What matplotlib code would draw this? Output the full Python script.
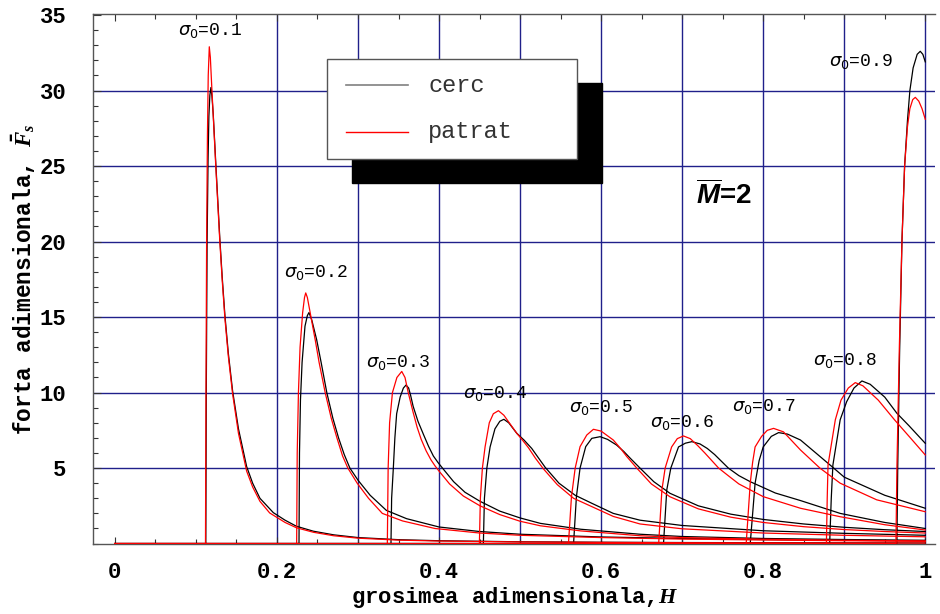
import matplotlib
matplotlib.use("Agg")
import matplotlib.pyplot as plt
from matplotlib.patches import Rectangle
from matplotlib.lines import Line2D
from matplotlib.ticker import MultipleLocator

# ---------------------------------------------------------------- data
sigma_labels = ["0.1", "0.2", "0.3", "0.4", "0.5", "0.6", "0.7", "0.8", "0.9"]

# sigma0 = 0.1
cerc_01_h = [0.0, 0.1122, 0.1128, 0.1138, 0.1150, 0.1160, 0.1172, 0.1185, 0.1198, 0.1214, 0.1245, 0.1270,
             0.1295, 0.1325, 0.1358, 0.1400, 0.1453, 0.1525, 0.1626, 0.1700, 0.1790, 0.1955, 0.2100,
             0.2240, 0.2450, 0.2700, 0.3000, 0.3500, 0.4000, 0.5000, 0.6000, 0.7000, 0.8000, 0.9000, 1.0]
cerc_01_f = [0, 0, 10, 20, 25.5, 28.3, 29.7, 30.2, 29.6, 28.4, 25.2, 22.7, 20.2, 17.6, 15.1, 12.6, 10.1,
             7.6, 5.1, 4.0, 3.0, 2.05, 1.55, 1.15, 0.82, 0.58, 0.40, 0.26, 0.19, 0.12, 0.09, 0.07, 0.06,
             0.05, 0.04]
patrat_01_h = [0.0, 0.1118, 0.1124, 0.1132, 0.1142, 0.1152, 0.1165, 0.1178, 0.1195, 0.1214, 0.1245, 0.1270,
               0.1295, 0.1325, 0.1358, 0.1400, 0.1453, 0.1525, 0.1626, 0.1700, 0.1790, 0.1910, 0.2100,
               0.2240, 0.2450, 0.2700, 0.3000, 0.3500, 0.4000, 0.5000, 0.6000, 0.7000, 0.8000, 0.9000, 1.0]
patrat_01_f = [0, 0, 10, 20, 27, 31, 32.9, 32.2, 30.3, 28.3, 25.0, 22.5, 20.0, 17.4, 14.9, 12.4, 9.9, 7.3,
               4.8, 3.75, 2.8, 2.03, 1.4, 1.05, 0.75, 0.52, 0.36, 0.23, 0.17, 0.11, 0.08, 0.06, 0.05, 0.04,
               0.04]

# sigma0 = 0.2
cerc_02_h = [0.0, 0.2272, 0.2278, 0.2290, 0.2310, 0.2346, 0.2375, 0.2395, 0.2430, 0.2490, 0.2545, 0.2615,
             0.2690, 0.2760, 0.2830, 0.2900, 0.3000, 0.3150, 0.3350, 0.3600, 0.4000, 0.4500, 0.5000,
             0.6000, 0.7000, 0.8000, 0.9000, 1.0]
cerc_02_f = [0, 0, 6.0, 9.5, 12.0, 14.4, 15.1, 15.3, 14.8, 13.5, 12.0, 10.0, 8.3, 7.0, 5.9, 5.0, 4.2, 3.2,
             2.2, 1.65, 1.1, 0.8, 0.62, 0.44, 0.34, 0.27, 0.22, 0.18]
patrat_02_h = [0.0, 0.2243, 0.2250, 0.2265, 0.2285, 0.2317, 0.2340, 0.2355, 0.2375, 0.2420, 0.2475, 0.2520,
               0.2595, 0.2670, 0.2740, 0.2810, 0.2875, 0.2990, 0.3130, 0.3300, 0.3550, 0.3950, 0.4500,
               0.5000, 0.6000, 0.7000, 0.8000, 0.9000, 1.0]
patrat_02_f = [0, 0, 6.0, 10.0, 13.0, 15.3, 16.3, 16.6, 16.3, 15.0, 13.4, 12.0, 10.0, 8.3, 7.0, 5.8, 5.0,
               4.0, 3.0, 2.0, 1.5, 1.0, 0.7, 0.55, 0.4, 0.3, 0.24, 0.19, 0.15]

# sigma0 = 0.3
cerc_03_h = [0.0, 0.3407, 0.3415, 0.3436, 0.3455, 0.3477, 0.3520, 0.3560, 0.3593, 0.3625, 0.3650, 0.3680,
             0.3740, 0.3810, 0.3870, 0.3930, 0.3990, 0.4050, 0.4180, 0.4320, 0.4506, 0.4750, 0.5000,
             0.5250, 0.5750, 0.6480, 0.7000, 0.8000, 0.9000, 1.0]
cerc_03_f = [0, 0, 3.0, 5.0, 7.0, 8.6, 9.7, 10.3, 10.5, 10.3, 9.8, 9.1, 8.1, 7.2, 6.45, 5.8, 5.35, 4.95,
             4.1, 3.4, 2.8, 2.15, 1.7, 1.34, 0.95, 0.62, 0.47, 0.34, 0.27, 0.22]
patrat_03_h = [0.0, 0.3362, 0.3372, 0.3390, 0.3425, 0.3480, 0.3540, 0.3580, 0.3620, 0.3680, 0.3730, 0.3780,
               0.3840, 0.3900, 0.3950, 0.4000, 0.4130, 0.4300, 0.4506, 0.4750, 0.5000, 0.5250, 0.5750,
               0.6480, 0.7000, 0.8000, 0.9000, 1.0]
patrat_03_f = [0, 0, 5.0, 8.0, 10.0, 11.0, 11.4, 11.0, 10.0, 8.7, 7.7, 6.9, 6.15, 5.55, 5.15, 4.8, 3.95,
               3.15, 2.5, 1.92, 1.48, 1.18, 0.84, 0.52, 0.4, 0.29, 0.22, 0.18]

# sigma0 = 0.4
cerc_04_h = [0.0, 0.4547, 0.4560, 0.4590, 0.4630, 0.4690, 0.4750, 0.4800, 0.4860, 0.4960, 0.5050, 0.5144,
             0.5230, 0.5310, 0.5480, 0.5680, 0.5885, 0.6150, 0.6480, 0.7000, 0.8000, 0.9000, 1.0]
cerc_04_f = [0, 0, 3.0, 5.0, 6.4, 7.6, 8.1, 8.23, 8.0, 7.3, 6.85, 6.3, 5.65, 5.05, 4.0, 3.2, 2.67, 2.0,
             1.55, 1.2, 0.85, 0.68, 0.55]
patrat_04_h = [0.0, 0.4498, 0.4510, 0.4535, 0.4568, 0.4620, 0.4670, 0.4733, 0.4800, 0.4880, 0.4960, 0.5030,
               0.5103, 0.5190, 0.5288, 0.5460, 0.5660, 0.5885, 0.6150, 0.6480, 0.7000, 0.8000, 0.9000, 1.0]
patrat_04_f = [0, 0, 3.0, 5.0, 6.4, 8.0, 8.6, 8.8, 8.5, 7.9, 7.3, 6.85, 6.35, 5.65, 4.95, 3.9, 3.0, 2.45,
               1.8, 1.3, 0.98, 0.7, 0.55, 0.45]

# sigma0 = 0.5
cerc_05_h = [0.0, 0.5660, 0.5695, 0.5740, 0.5810, 0.5885, 0.5988, 0.6080, 0.6190, 0.6280, 0.6360, 0.6480,
             0.6650, 0.6850, 0.7200, 0.7600, 0.8000, 0.8500, 0.9000, 0.9500, 1.0]
cerc_05_f = [0, 0, 3.1, 5.0, 6.42, 6.97, 7.08, 6.9, 6.53, 6.1, 5.65, 5.0, 4.1, 3.33, 2.5, 1.95, 1.6, 1.3,
             1.08, 0.92, 0.8]
patrat_05_h = [0.0, 0.5597, 0.5634, 0.5680, 0.5740, 0.5823, 0.5905, 0.6000, 0.6150, 0.6240, 0.6317, 0.6440,
               0.6620, 0.6850, 0.7200, 0.7600, 0.8000, 0.8500, 0.9000, 0.9500, 1.0]
patrat_05_f = [0, 0, 3.1, 5.0, 6.42, 7.19, 7.57, 7.45, 6.86, 6.3, 5.76, 5.0, 3.95, 3.1, 2.3, 1.75, 1.4,
               1.12, 0.93, 0.8, 0.7]

# sigma0 = 0.6
cerc_06_h = [0.0, 0.6770, 0.6810, 0.6860, 0.6955, 0.7040, 0.7120, 0.7220, 0.7310, 0.7400, 0.7570, 0.7700,
             0.7840, 0.8150, 0.8460, 0.8950, 0.9500, 1.0]
cerc_06_f = [0, 0, 3.55, 5.0, 6.4, 6.65, 6.75, 6.6, 6.3, 5.9, 5.0, 4.5, 4.1, 3.35, 2.85, 2.0, 1.4, 1.0]
patrat_06_h = [0.0, 0.6710, 0.6750, 0.6790, 0.6870, 0.6940, 0.7016, 0.7100, 0.7190, 0.7280, 0.7450, 0.7580,
               0.7700, 0.8000, 0.8460, 0.8950, 0.9500, 1.0]
patrat_06_f = [0, 0, 3.55, 5.0, 6.4, 6.95, 7.13, 6.95, 6.5, 6.0, 5.0, 4.45, 3.95, 3.11, 2.34, 1.78, 1.25, 0.9]

# sigma0 = 0.7
cerc_07_h = [0.0, 0.7840, 0.7870, 0.7900, 0.7950, 0.8000, 0.8100, 0.8190, 0.8300, 0.8460, 0.8650, 0.8870,
             0.9000, 0.9500, 1.0]
cerc_07_f = [0, 0, 2.0, 4.0, 5.5, 6.4, 7.1, 7.35, 7.25, 6.86, 6.0, 5.0, 4.4, 3.2, 2.34]
patrat_07_h = [0.0, 0.7790, 0.7815, 0.7840, 0.7870, 0.7900, 0.7980, 0.8050, 0.8128, 0.8250, 0.8460, 0.8700,
               0.8950, 0.9400, 1.0]
patrat_07_f = [0, 0, 2.0, 4.0, 5.4, 6.4, 7.1, 7.5, 7.63, 7.4, 6.2, 5.0, 4.0, 2.9, 2.11]

# sigma0 = 0.8
cerc_08_h = [0.0, 0.8820, 0.8840, 0.8860, 0.8950, 0.9030, 0.9120, 0.9218, 0.9320, 0.9500, 0.9650, 0.9800, 1.0]
cerc_08_f = [0, 0, 3.0, 5.2, 8.2, 9.4, 10.3, 10.77, 10.55, 9.7, 8.63, 7.8, 6.64]
patrat_08_h = [0.0, 0.8780, 0.8790, 0.8800, 0.8890, 0.8960, 0.9050, 0.9136, 0.9230, 0.9420, 0.9620, 0.9800,
               1.0]
patrat_08_f = [0, 0, 3.0, 5.2, 8.2, 9.5, 10.3, 10.66, 10.45, 9.5, 8.2, 7.1, 5.87]

# sigma0 = 0.9
cerc_09_h = [0.0, 0.9650, 0.9660, 0.9683, 0.9712, 0.9745, 0.9780, 0.9810, 0.9850, 0.9900, 0.9938, 0.9970, 1.0]
cerc_09_f = [0, 0, 5.0, 12.6, 20.0, 25.0, 28.0, 30.0, 31.5, 32.4, 32.6, 32.4, 31.9]
patrat_09_h = [0.0, 0.9638, 0.9650, 0.9680, 0.9712, 0.9745, 0.9780, 0.9810, 0.9845, 0.9877, 0.9920, 0.9960,
               1.0]
patrat_09_f = [0, 0, 5.0, 13.0, 20.0, 25.0, 27.6, 28.8, 29.4, 29.55, 29.3, 28.8, 28.1]

x_ticks = [0, 0.2, 0.4, 0.6, 0.8, 1.0]
x_tick_labels = ["0", "0.2", "0.4", "0.6", "0.8", "1"]
y_ticks = [5, 10, 15, 20, 25, 30, 35]
y_tick_labels = ["5", "10", "15", "20", "25", "30", "35"]
grid_x = [0.2, 0.3, 0.4, 0.5, 0.6, 0.7, 0.8, 0.9, 1.0]
grid_y = [5, 10, 15, 20, 25, 30]

cerc_curves = [(cerc_01_h, cerc_01_f), (cerc_02_h, cerc_02_f), (cerc_03_h, cerc_03_f),
               (cerc_04_h, cerc_04_f), (cerc_05_h, cerc_05_f), (cerc_06_h, cerc_06_f),
               (cerc_07_h, cerc_07_f), (cerc_08_h, cerc_08_f), (cerc_09_h, cerc_09_f)]
patrat_curves = [(patrat_01_h, patrat_01_f), (patrat_02_h, patrat_02_f), (patrat_03_h, patrat_03_f),
                 (patrat_04_h, patrat_04_f), (patrat_05_h, patrat_05_f), (patrat_06_h, patrat_06_f),
                 (patrat_07_h, patrat_07_f), (patrat_08_h, patrat_08_f), (patrat_09_h, patrat_09_f)]

# ---------------------------------------------------------------- style
plt.rcParams["mathtext.fontset"] = "custom"
plt.rcParams["mathtext.it"] = "Liberation Serif:italic:bold"
plt.rcParams["mathtext.rm"] = "Liberation Sans:bold"
plt.rcParams["mathtext.sf"] = "Liberation Sans:italic:bold"
plt.rcParams["mathtext.bf"] = "Liberation Sans:bold"

W, Hpx = 940, 614
fig = plt.figure(figsize=(W / 100, Hpx / 100), dpi=100)
fig.patch.set_facecolor("white")

ax_left, ax_right, ax_top, ax_bottom = 93, 935, 14, 543.6
ax = fig.add_axes([ax_left / W, 1 - ax_bottom / Hpx, (ax_right - ax_left) / W, (ax_bottom - ax_top) / Hpx])
ax.set_xlim(-0.027, 1.012)
ax.set_ylim(0, 35.07)

grid_color = "#20208a"
for gx in grid_x:
    ax.axvline(gx, color=grid_color, lw=1.0, zorder=1)
for gy in grid_y:
    ax.axhline(gy, color=grid_color, lw=1.0, zorder=1)

for h, f in cerc_curves:
    ax.plot(h, f, color="black", lw=0.9, zorder=3)
for h, f in patrat_curves:
    ax.plot(h, f, color="red", lw=0.9, zorder=4)

# frame and ticks
ax.spines["right"].set_visible(False)
for side in ("left", "top", "bottom"):
    ax.spines[side].set_color("#555555")
    ax.spines[side].set_linewidth(1.0)

tick_font = {"family": "Liberation Mono", "weight": "bold", "size": 16}
ax.set_xticks(x_ticks)
ax.set_xticklabels(x_tick_labels, fontdict=tick_font)
ax.set_yticks(y_ticks)
ax.set_yticklabels(y_tick_labels, fontdict=tick_font)
ax.xaxis.set_minor_locator(MultipleLocator(0.05))
ax.yaxis.set_minor_locator(MultipleLocator(1))
ax.tick_params(axis="x", which="both", direction="in", top=True, bottom=True, color="#333333", width=0.8)
ax.tick_params(axis="x", which="major", length=5, pad=13)
ax.tick_params(axis="x", which="minor", length=3.5)
ax.tick_params(axis="y", which="both", direction="in", left=True, right=False, color="#333333", width=0.8)
ax.tick_params(axis="y", which="major", length=6, pad=19)
ax.tick_params(axis="y", which="minor", length=3.5)

ax.set_xlabel("grosimea adimensionala,$\\mathit{H}$", family="Liberation Mono", weight="bold",
              size=16, labelpad=2)
ax.set_ylabel("forta adimensionala, $\\bar{\\mathit{F}}_s$", family="Liberation Mono", weight="bold",
              size=16.5, labelpad=1)

# curve labels
label_pos = [(0.117, 33.95), (0.248, 17.97), (0.349, 11.96), (0.469, 9.97), (0.600, 8.98),
             (0.700, 8.05), (0.801, 9.05), (0.901, 12.1), (0.921, 31.9)]
for s, (lx, ly) in zip(sigma_labels, label_pos):
    ax.text(lx, ly, "$\\sigma_0$=" + s, family="Liberation Mono", size=13, ha="center", va="center",
            math_fontfamily="dejavusans", zorder=6)

ax.text(0.752, 23.1, "$\\overline{\\mathsf{M}}$=2", family="Liberation Sans", weight="bold", size=20,
        ha="center", va="center", zorder=6)


# legend with a solid drop shadow
def fx(x):
    return x / W


def fy(y):
    return 1 - y / Hpx


shadow = Rectangle((fx(351.7), fy(183.3)), (601.7 - 351.7) / W, (183.3 - 83.3) / Hpx,
                   transform=fig.transFigure, facecolor="black", edgecolor="black", zorder=10)
box = Rectangle((fx(326.7), fy(159.0)), (576.7 - 326.7) / W, (159.0 - 59.3) / Hpx,
                transform=fig.transFigure, facecolor="white", edgecolor="#555555", lw=1.0, zorder=11)
fig.patches.extend([shadow, box])
fig.lines.append(Line2D([fx(346), fx(408)], [fy(85), fy(85)], transform=fig.transFigure,
                        color="#808080", lw=1.2, zorder=12))
fig.lines.append(Line2D([fx(346), fx(408)], [fy(131.7), fy(131.7)], transform=fig.transFigure,
                        color="red", lw=1.0, zorder=12))
fig.text(fx(429), fy(85), "cerc", family="Liberation Mono", size=17, ha="left", va="center", zorder=13,
         color="#333333")
fig.text(fx(428), fy(131.7), "patrat", family="Liberation Mono", size=17, ha="left", va="center", zorder=13,
         color="#333333")

fig.savefig("out.png", dpi=100, facecolor="white")
